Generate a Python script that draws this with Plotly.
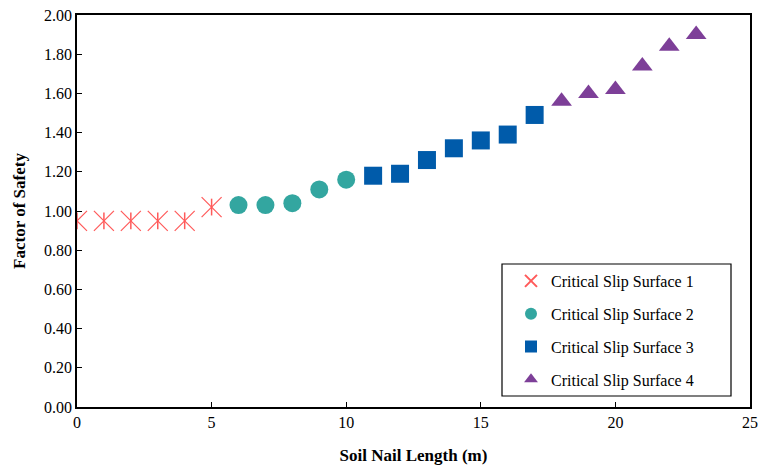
import plotly.graph_objects as go

x1 = [0, 1, 2, 3, 4, 5]
y1 = [0.95, 0.95, 0.95, 0.95, 0.95, 1.02]
x2 = [6, 7, 8, 9, 10]
y2 = [1.03, 1.03, 1.04, 1.11, 1.16]
x3 = [11, 12, 13, 14, 15, 16, 17]
y3 = [1.18, 1.19, 1.26, 1.32, 1.36, 1.39, 1.49]
x4 = [18, 19, 20, 21, 22, 23]
y4 = [1.56, 1.60, 1.62, 1.74, 1.84, 1.90]
names = ["Critical Slip Surface 1", "Critical Slip Surface 2",
         "Critical Slip Surface 3", "Critical Slip Surface 4"]

FONT = "Liberation Serif, Times New Roman, serif"
red = "#FF5A5A"

fig = go.Figure()
fig.add_trace(go.Scatter(x=x1, y=y1, mode="markers", name="vertical arm",
                         showlegend=False, hoverinfo="skip",
                         marker=dict(symbol=42, size=12, color=red,
                                     line=dict(color=red, width=1.5))))
fig.add_trace(go.Scatter(x=x1, y=y1, mode="markers", name=names[0], legendgroup="g1",
                         marker=dict(symbol="x-thin-open", size=20,
                                     line=dict(color=red, width=1.2), color=red)))
fig.add_trace(go.Scatter(x=x2, y=y2, mode="markers", name=names[1], legendgroup="g2",
                         marker=dict(symbol="circle", size=18, color="#33A6A0")))
fig.add_trace(go.Scatter(x=x3, y=y3, mode="markers", name=names[2], legendgroup="g3",
                         marker=dict(symbol="square", size=18, color="#005BAA")))
fig.add_trace(go.Scatter(x=x4, y=y4, mode="markers", name=names[3], legendgroup="g4",
                         marker=dict(symbol="triangle-up", size=18, color="#7D3F98")))

L, R, T, B = 77, 8, 15, 58
W, H = 758, 465
pw, ph = W - L - R, H - T - B

def px(xp):
    return (xp - L) / pw

def py(yp):
    return (H - B - yp) / ph

fig.add_shape(type="rect", xref="paper", yref="paper",
              x0=px(502), x1=px(731), y0=py(396), y1=py(264),
              line=dict(color="black", width=1.2), fillcolor="rgba(0,0,0,0)")

fig.update_layout(
    width=W, height=H,
    margin=dict(l=L, r=R, t=T, b=B, autoexpand=False),
    paper_bgcolor="white", plot_bgcolor="white",
    font=dict(family=FONT, size=16, color="black"),
    showlegend=True,
    legend=dict(x=px(511), y=py(264), xanchor="left", yanchor="top",
                bgcolor="rgba(0,0,0,0)", borderwidth=0, itemsizing="constant",
                traceorder="grouped", tracegroupgap=9,
                font=dict(family=FONT, size=16, color="black")),
    xaxis=dict(range=[0, 25], dtick=5, tick0=0, showgrid=False, zeroline=False,
               showline=True, linecolor="black", linewidth=1.5, mirror=True,
               ticks="inside", ticklen=5, tickcolor="black",
               tickfont=dict(family=FONT, size=16),
               title=dict(text="<b>Soil Nail Length (m)</b>", standoff=19,
                          font=dict(family=FONT, size=17))),
    yaxis=dict(range=[0, 2], dtick=0.2, tick0=0, tickformat=".2f", showgrid=False,
               zeroline=False, showline=True, linecolor="black", linewidth=1.5,
               mirror=True, ticks="inside", ticklen=5, tickcolor="black",
               tickfont=dict(family=FONT, size=16),
               title=dict(text="<b>Factor of Safety</b>", standoff=14,
                          font=dict(family=FONT, size=17))),
)

fig.write_html("out.html", config={"displayModeBar": False},
               post_script="document.body.style.margin='0';")
